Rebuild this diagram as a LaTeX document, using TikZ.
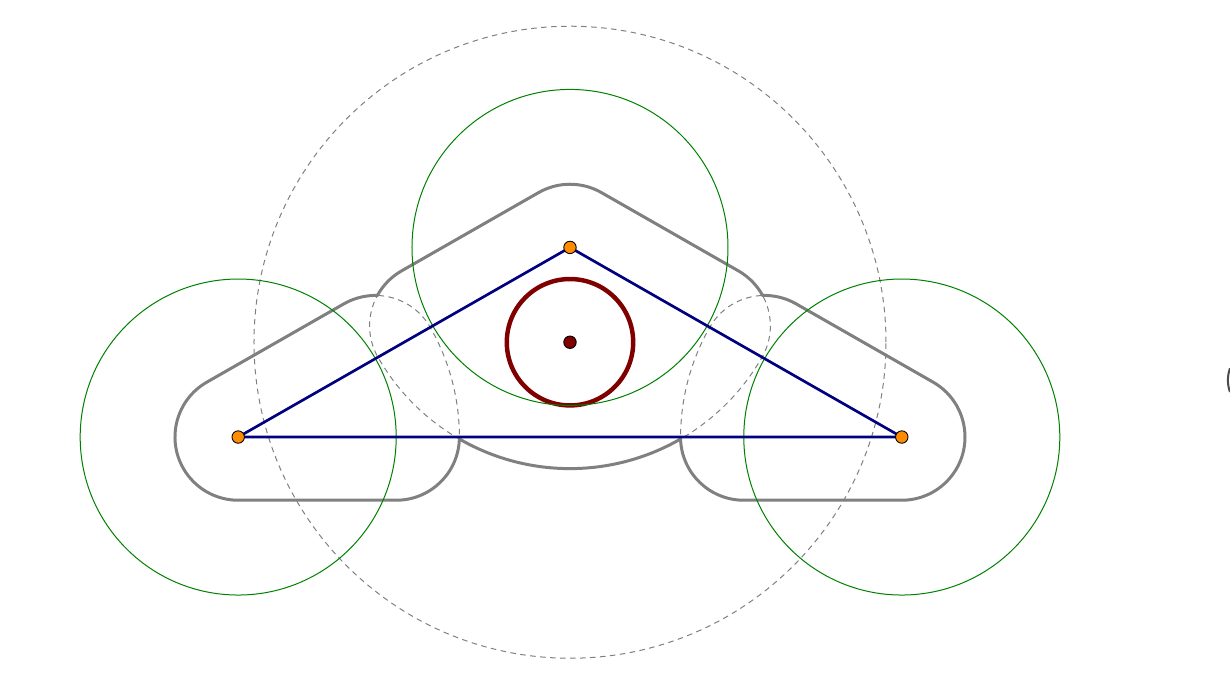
\documentclass[tikz,border=0pt]{standalone}
\definecolor{dotorange}{RGB}{255,140,0}

\begin{document}
\begin{tikzpicture}[
    guide/.style={draw=gray, line width=0.45pt, dash pattern=on 2.5pt off 2pt},
    reach/.style={draw=green!50!black, line width=0.45pt},
    hull/.style={draw=gray, line width=1.35pt, line join=round},
    side/.style={draw=blue!50!black, line width=1.2pt, line join=round},
    inner/.style={draw=red!50!black, line width=2pt},
    vertex/.style={circle, draw=black, line width=0.4pt, fill=dotorange,
                   inner sep=0pt, minimum size=5.6pt},
    centre/.style={circle, draw=black, line width=0.4pt, fill=red!50!black,
                   inner sep=0pt, minimum size=5.6pt}
  ]
  \useasboundingbox (-9.019,-3.924) rectangle (10.443,6.915);

  \coordinate (A) at (-5.25,0);
  \coordinate (B) at (0,3);
  \coordinate (C) at (5.25,0);
  \coordinate (O) at (0,1.5);

  % Outer guide circle
  \draw[guide] (O) circle[radius=5];

  % Lobes one by one (hidden parts stay dashed)
  \draw[guide] (-5.25,-1) -- (-2.75,-1) arc[start angle=-90, end angle=0, radius=1]
    arc[start angle=0, end angle=29.74, radius=3.5]
    arc[start angle=29.74, end angle=119.74, radius=1]
    -- (-5.7461,0.8682) arc[start angle=119.74, end angle=270, radius=1] -- cycle;
  \draw[guide] (5.25,-1) -- (2.75,-1) arc[start angle=270, end angle=180, radius=1]
    arc[start angle=180, end angle=150.26, radius=3.5]
    arc[start angle=150.26, end angle=60.26, radius=1]
    -- (5.7461,0.8682) arc[start angle=60.26, end angle=-90, radius=1] -- cycle;
  \draw[guide] (-0.4961,3.8682) -- (-2.6667,2.6278)
    arc[start angle=119.74, end angle=209.74, radius=1]
    arc[start angle=209.74, end angle=330.26, radius=3.5]
    arc[start angle=330.26, end angle=420.26, radius=1]
    -- (0.4961,3.8682) arc[start angle=60.26, end angle=119.74, radius=1] -- cycle;

  % Union outline
  \draw[hull] (-5.25,-1) -- (-2.75,-1) arc[start angle=-90, end angle=-1.77, radius=1]
    arc[start angle=240, end angle=300, radius=3.5]
    arc[start angle=181.77, end angle=270, radius=1]
    -- (5.25,-1) arc[start angle=-90, end angle=60.26, radius=1]
    -- (3.5755,2.1086) arc[start angle=60.26, end angle=91.82, radius=1]
    arc[start angle=28.70, end angle=60.26, radius=1]
    -- (0.4961,3.8682) arc[start angle=60.26, end angle=119.74, radius=1]
    -- (-2.6667,2.6278) arc[start angle=119.74, end angle=151.30, radius=1]
    arc[start angle=88.18, end angle=119.74, radius=1]
    -- (-5.7461,0.8682) arc[start angle=119.74, end angle=270, radius=1] -- cycle;

  % Middle circle
  \draw[inner] (O) circle[radius=1];

  % Reach circles
  \draw[reach] (A) circle[radius=2.5];
  \draw[reach] (B) circle[radius=2.5];
  \draw[reach] (C) circle[radius=2.5];

  % Triangle
  \draw[side] (A) -- (B) -- (C) -- cycle;

  \node[vertex] (a) at (A) {};
  \node[vertex] (b) at (B) {};
  \node[vertex] (c) at (C) {};
  \node[centre] (o) at (O) {};

  % cut-off mark at the right edge
  \draw[gray!60!black, line width=0.9pt] (10.443,1.088)
    arc[start angle=160, end angle=200, radius=0.55];
\end{tikzpicture}
\end{document}
